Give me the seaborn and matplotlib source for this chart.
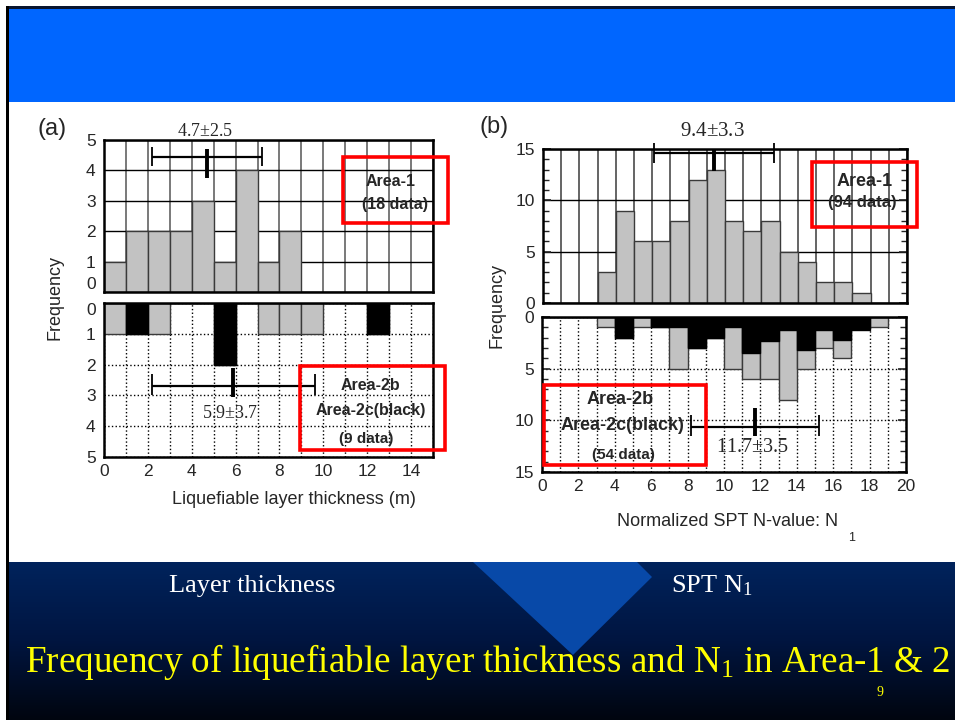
import numpy as np
import pandas as pd
import seaborn as sns
import matplotlib
matplotlib.use("Agg")
import matplotlib.pyplot as plt
from matplotlib.patches import Rectangle, Polygon
from matplotlib.ticker import MultipleLocator
from matplotlib.colors import LinearSegmentedColormap

# ---------------- data ----------------
thick_bins = list(range(0, 16))                      # layer thickness bin edges (m)
thick_area1 = [1, 2, 2, 2, 3, 1, 4, 1, 2, 0, 0, 0, 0, 0, 0]
thick_area2b = [1, 0, 1, 0, 0, 0, 0, 1, 1, 1, 0, 0, 0, 0, 0]
thick_area2c = [0, 1, 0, 0, 0, 2, 0, 0, 0, 0, 0, 0, 1, 0, 0]
thick_mean = [4.7, 5.9]
thick_sd = [2.5, 3.7]
thick_yticks = [0, 1, 2, 3, 4, 5]

spt_bins = list(range(0, 21))                        # N1 bin edges
spt_area1 = [0, 0, 0, 3, 9, 6, 6, 8, 12, 13, 8, 7, 8, 5, 4, 2, 2, 1, 0, 0]
spt_area2_total = [0, 0, 0, 1, 2, 1, 1, 5, 3, 2, 5, 6, 6, 8, 5, 3, 4, 1, 1, 0]
spt_area2c = [0, 0, 0, 0, 2, 0, 1, 1, 3, 2, 1, 3.5, 2.3, 1.3, 3.2, 1.3, 2.2, 1.3, 0, 0]
spt_mean = [9.4, 11.7]
spt_sd = [3.3, 3.5]

title_text = r"Frequency of liquefiable layer thickness and N$_1$ in Area-1 & 2"

# ---------------- style ----------------
sns.set_style("white")
plt.rcParams["font.family"] = ["Liberation Sans", "DejaVu Sans"]
plt.rcParams["mathtext.fontset"] = "custom"
plt.rcParams["mathtext.rm"] = "Liberation Serif"
plt.rcParams["mathtext.it"] = "Liberation Serif:italic"
plt.rcParams["mathtext.bf"] = "Liberation Serif:bold"

W, H = 955, 720
fig = plt.figure(figsize=(9.55, 7.2), dpi=100)
fig.patch.set_facecolor("white")


def box(l, t, r, b):
    return [l / W, 1 - b / H, (r - l) / W, (b - t) / H]


# background layer (slide decoration)
bg = fig.add_axes([0, 0, 1, 1], zorder=0)
bg.add_patch(Rectangle((8, 8), W - 8, 94, color="#0066ff", lw=0))
bg.add_patch(Rectangle((6, 6), W - 6, 3, color="#081530", lw=0))
grad = np.linspace(0, 1, 200).reshape(-1, 1)
cmap = LinearSegmentedColormap.from_list("navy", ["#00235c", "#001540", "#00050f"])
bg.imshow(grad, extent=[8, W, H, 562], aspect="auto", cmap=cmap, zorder=1)
bg.set_xlim(0, W)
bg.set_ylim(H, 0)
bg.axis("off")
bg.add_patch(Polygon([(473, 562), (637, 562), (652, 577), (573, 655)],
                     closed=True, color="#0849a8", lw=0, zorder=2))
bg.add_patch(Rectangle((6, 6), 3, H - 6, color="black", lw=0, zorder=3))
bg.text(252, 586, "Layer thickness", color="white", fontsize=19,
        family="Liberation Serif", ha="center", va="center", zorder=4)
bg.text(712, 586, r"SPT N$_1$", color="white", fontsize=19,
        family="Liberation Serif", ha="center", va="center", zorder=4)
tt = bg.text(25, 672, title_text, color="#ffff00", fontsize=28,
             family="Liberation Serif", ha="left", va="baseline", zorder=4)
bg.text(880, 692, "9", color="#ffff00", fontsize=10, family="Liberation Serif",
        ha="center", va="center", zorder=4)
fig.canvas.draw()
bw = tt.get_window_extent().width
tt.set_fontsize(28 * 925 / bw)

GRAY = "#c2c2c2"


def hist(ax, edges, counts, color, ec, lw=1.0, z=2):
    e = np.asarray(edges, float)
    df = pd.DataFrame({"value": (e[:-1] + e[1:]) / 2, "count": np.asarray(counts, float)})
    sns.histplot(data=df, x="value", weights="count", binwidth=float(e[1] - e[0]),
                 binrange=(float(e[0]), float(e[-1])), ax=ax, color=color,
                 edgecolor=ec, linewidth=lw, alpha=1, zorder=z)


def frame(ax):
    for s in ax.spines.values():
        s.set_linewidth(1.8)
        s.set_color("black")
    ax.set_xlabel("")
    ax.set_ylabel("")
    ax.set_axisbelow(True)


def errbar(ax, mean, sd, y, cap, ctr):
    ax.hlines(y, mean - sd, mean + sd, color="black", lw=1.6, clip_on=False, zorder=5)
    ax.vlines([mean - sd, mean + sd], cap[0], cap[1], color="black", lw=1.3,
              clip_on=False, zorder=5)
    ax.vlines(mean, ctr[0], ctr[1], color="black", lw=2.8, clip_on=False, zorder=5)


# ---------------- (a) top ----------------
a1 = fig.add_axes(box(104, 140, 433, 292), zorder=2)
hist(a1, thick_bins, thick_area1, GRAY, "#3a3a3a")
frame(a1)
a1.set_xlim(0, 15)
a1.set_ylim(0, 5)
a1.xaxis.set_major_locator(MultipleLocator(1))
a1.set_yticks(thick_yticks)
a1.set_yticklabels([str(v) for v in thick_yticks])
a1.get_yticklabels()[0].set_va("bottom")
a1.grid(True, axis="x", color="#555555", lw=1.1, ls="-")
a1.grid(True, axis="y", color="black", lw=1.0, ls="-")
a1.tick_params(axis="x", length=0, labelbottom=False)
a1.tick_params(axis="y", direction="in", length=0, labelsize=12.5, pad=6)
errbar(a1, thick_mean[0], thick_sd[0], 4.45, (4.14, 4.78), (3.75, 4.69))

# ---------------- (a) bottom ----------------
a2 = fig.add_axes(box(104, 303, 433, 457), zorder=2)
thick_total2 = list(np.add(thick_area2b, thick_area2c))
hist(a2, thick_bins, thick_total2, GRAY, "#3a3a3a")
hist(a2, thick_bins, thick_area2c, "black", "black", z=3)
frame(a2)
a2.set_xlim(0, 15)
a2.set_ylim(5, 0)
a2.xaxis.set_major_locator(MultipleLocator(2))
a2.xaxis.set_minor_locator(MultipleLocator(1))
a2.set_yticks(thick_yticks)
a2.set_yticklabels([str(v) for v in thick_yticks])
a2.get_yticklabels()[0].set_va("top")
a2.grid(True, which="both", axis="x", color="black", lw=1.0, ls=":")
a2.grid(True, axis="y", color="black", lw=1.0, ls=":")
a2.tick_params(axis="x", which="both", length=0, labelsize=12.5, pad=5)
a2.tick_params(axis="y", direction="in", length=5, width=1.2, labelsize=12.5, pad=6)
errbar(a2, thick_mean[1], thick_sd[1], 2.69, (2.3, 3.0), (2.1, 3.06))

# ---------------- (b) top ----------------
b1 = fig.add_axes(box(543, 149, 907, 303), zorder=2)
hist(b1, spt_bins, spt_area1, GRAY, "#3a3a3a")
frame(b1)
b1.set_xlim(0, 20)
b1.set_ylim(0, 15)
b1.xaxis.set_major_locator(MultipleLocator(1))
b1.yaxis.set_major_locator(MultipleLocator(5))
b1.yaxis.set_minor_locator(MultipleLocator(1))
b1.grid(True, axis="x", color="#4a4a4a", lw=1.2, ls="-")
b1.grid(True, axis="y", which="major", color="black", lw=1.0, ls="-")
b1.tick_params(axis="x", length=0, labelbottom=False)
b1.tick_params(axis="y", which="both", direction="in", left=True, right=True,
               labelsize=12.5, pad=6)
b1.tick_params(axis="y", which="major", length=6, width=1.2)
b1.tick_params(axis="y", which="minor", length=4, width=1.0)
errbar(b1, spt_mean[0], spt_sd[0], 14.6, (13.6, 15.6), (12.9, 15.0))

# ---------------- (b) bottom ----------------
b2 = fig.add_axes(box(542, 317, 906, 472), zorder=2)
hist(b2, spt_bins, spt_area2_total, GRAY, "#3a3a3a")
hist(b2, spt_bins, spt_area2c, "black", "black", z=3)
frame(b2)
b2.set_xlim(0, 20)
b2.set_ylim(15, 0)
b2.xaxis.set_major_locator(MultipleLocator(2))
b2.xaxis.set_minor_locator(MultipleLocator(1))
b2.yaxis.set_major_locator(MultipleLocator(5))
b2.yaxis.set_minor_locator(MultipleLocator(1))
b2.grid(True, which="both", axis="x", color="black", lw=1.0, ls=":")
b2.grid(True, which="major", axis="y", color="black", lw=1.0, ls=":")
b2.tick_params(axis="x", which="both", length=0, labelsize=12.5, pad=5)
b2.tick_params(axis="y", which="both", direction="in", left=True, right=True,
               labelsize=12.5, pad=6)
b2.tick_params(axis="y", which="major", length=6, width=1.2)
b2.tick_params(axis="y", which="minor", length=4, width=1.0)
errbar(b2, spt_mean[1], spt_sd[1], 10.6, (9.45, 11.55), (8.8, 11.55))

# ---------------- overlay text / boxes ----------------
ov = fig.add_axes([0, 0, 1, 1], zorder=6)
ov.set_xlim(0, W)
ov.set_ylim(H, 0)
ov.axis("off")
ov.patch.set_alpha(0)

ov.text(52, 129, "(a)", fontsize=17, ha="center", va="center")
ov.text(494, 127, "(b)", fontsize=17, ha="center", va="center")
ov.text(55, 297, "Frequency", fontsize=13, rotation=90, ha="center", va="center")
ov.text(497, 305, "Frequency", fontsize=13, rotation=90, ha="center", va="center")
ov.text(294, 500, "Liquefiable layer thickness (m)", fontsize=13, ha="center", va="center")
ov.text(728, 522, "Normalized SPT N-value: N", fontsize=13, ha="center", va="center")
ov.text(852, 538, "1", fontsize=9, ha="center", va="center")

ser = dict(family="Liberation Serif", ha="center", va="center")
ov.text(205, 131, r"4.7$\pm$2.5", fontsize=13, **ser)
ov.text(230, 413, r"5.9$\pm$3.7", fontsize=13, **ser)
ov.text(712, 132, r"9.4$\pm$3.3", fontsize=15, **ser)
ov.text(752, 448, r"11.7$\pm$3.5", fontsize=14.5, **ser)

red = dict(fill=False, edgecolor="#ff0000", lw=2.6)
ov.add_patch(Rectangle((343, 157), 105, 66, **red))
ov.add_patch(Rectangle((300, 366), 145, 84, **red))
ov.add_patch(Rectangle((812, 162), 105, 65, **red))
ov.add_patch(Rectangle((544, 385), 162, 80, **red))

bold = dict(fontweight="bold", ha="center", va="center")
ov.text(391, 181, "Area-1", fontsize=11.5, **bold)
ov.text(395, 205, "(18 data)", fontsize=11.5, **bold)
ov.text(370, 386, "Area-2b", fontsize=11.5, **bold)
ov.text(371, 410, "Area-2c(black)", fontsize=11.5, **bold)
ov.text(366, 439, "(9 data)", fontsize=11, **bold)
ov.text(865, 182, "Area-1", fontsize=13, **bold)
ov.text(862, 203, "(94 data)", fontsize=12, **bold)
ov.text(620, 400, "Area-2b", fontsize=13, **bold)
ov.text(622, 425, "Area-2c(black)", fontsize=13, **bold)
ov.text(623, 455, "(54 data)", fontsize=11, **bold)

fig.savefig("out.png", dpi=100)
